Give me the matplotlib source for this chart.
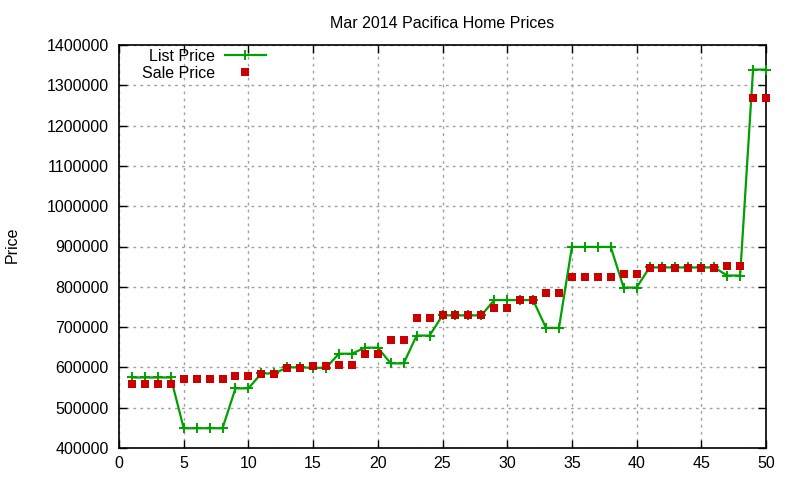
import matplotlib
matplotlib.use("Agg")
import matplotlib.pyplot as plt
from matplotlib.ticker import MultipleLocator, FormatStrFormatter

plt.rcParams['font.family'] = ['Liberation Sans', 'DejaVu Sans']

index = list(range(1, 51))
list_price = [575000, 575000, 575000, 575000,
              449000, 449000, 449000, 449000,
              548000, 548000,
              585000, 585000,
              600000, 600000,
              599000, 599000,
              634000, 634000,
              649000, 649000,
              610000, 610000,
              679000, 679000,
              729000, 729000, 729000, 729000,
              767000, 767000, 767000, 767000,
              698000, 698000,
              899000, 899000, 899000, 899000,
              798000, 798000,
              848000, 848000, 848000, 848000, 848000, 848000,
              828000, 828000,
              1339000, 1339000]
sale_price = [560000, 560000, 560000, 560000,
              572000, 572000, 572000, 572000,
              579000, 579000,
              584000, 584000,
              598000, 598000,
              604000, 604000,
              607000, 607000,
              634000, 634000,
              669000, 669000,
              723000, 723000,
              729000, 729000, 729000, 729000,
              748000, 748000,
              767000, 767000,
              785000, 785000,
              825000, 825000, 825000, 825000,
              832000, 832000,
              847000, 847000, 847000, 847000, 847000, 847000,
              852000, 852000,
              1269000, 1269000]

fig = plt.figure(figsize=(8, 4.8), dpi=100)
ax = fig.add_axes([119/800, 1-448/480, (766-119)/800, (448-45)/480])

ax.plot(index, list_price, color='#00a000', lw=1.6, marker='+', ms=7.5, mew=1.4,
        label='List Price', zorder=3, clip_on=False)
ax.plot(index, sale_price, ls='none', color='#cc0000', marker='s', ms=5.6, mew=0,
        label='Sale Price', zorder=4, clip_on=False)

ax.set_xlim(0, 50)
ax.set_ylim(400000, 1400000)
ax.xaxis.set_major_locator(MultipleLocator(5))
ax.yaxis.set_major_locator(MultipleLocator(100000))
ax.yaxis.set_major_formatter(FormatStrFormatter('%d'))
ax.tick_params(direction='in', top=True, right=True, length=6, width=1,
               labelsize=11.5, colors='black')
ax.tick_params(axis='x', pad=6)
ax.tick_params(axis='y', pad=7.5)
ax.grid(True, color='#a0a0a0', ls=(0, (2, 3)), lw=1)
ax.set_axisbelow(True)
for s in ax.spines.values():
    s.set_linewidth(1.2)

ax.set_title('Mar 2014 Pacifica Home Prices', fontsize=11.5, pad=12)
fig.text(12/800, 1-245/480, 'Price', rotation=90, fontsize=11.5,
         va='center', ha='center')

leg = ax.legend(loc='upper left', bbox_to_anchor=(0.034, 0.992), markerfirst=False,
                frameon=False, fontsize=11.5, handlelength=2.6, handletextpad=0.6,
                labelspacing=0.1, borderaxespad=0.0, borderpad=0.05)
for t in leg.get_texts():
    t.set_ha('right')
leg._legend_box.align = 'right'

fig.savefig('out.png', dpi=100)
